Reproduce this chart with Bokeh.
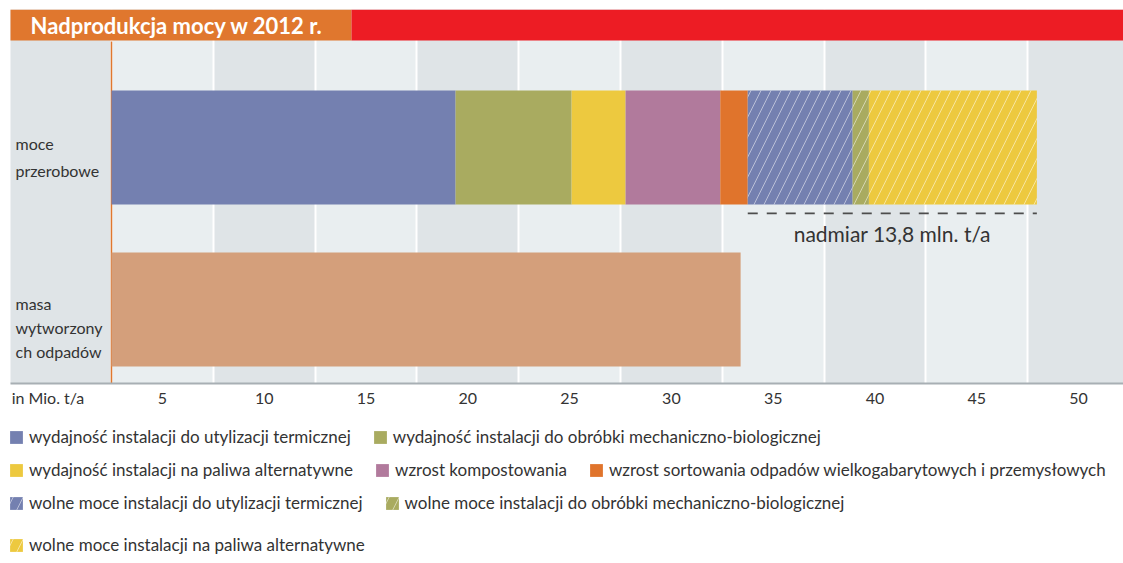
from bokeh.plotting import figure
from bokeh.layouts import column
from bokeh.models import Range1d, FixedTicker, Legend, LegendItem
from bokeh.core.properties import value
from bokeh.embed import file_html
from bokeh.resources import INLINE

# ---------------- data ----------------
title = "Nadprodukcja mocy w 2012 r."
categories = ["moce przerobowe", "masa wytworzonych odpadów"]
category_labels = ["moce\nprzerobowe", "masa\nwytworzony\nch odpadów"]

segment_labels = [
    "wydajność instalacji do utylizacji termicznej",
    "wydajność instalacji do obróbki mechaniczno-biologicznej",
    "wydajność instalacji na paliwa alternatywne",
    "wzrost kompostowania",
    "wzrost sortowania odpadów wielkogabarytowych i przemysłowych",
    "wolne moce instalacji do utylizacji termicznej",
    "wolne moce instalacji do obróbki mechaniczno-biologicznej",
    "wolne moce instalacji na paliwa alternatywne",
]
segment_values = [16.9, 5.7, 2.65, 4.65, 1.35, 5.15, 0.8, 8.25]
segment_colors = ["#7480b0", "#a9ab60", "#edc93f", "#b17a9c", "#e0742c",
                  "#7480b0", "#a9ab60", "#edc93f"]
segment_hatched = [False, False, False, False, False, True, True, True]
n_capacity = 5  # first five segments = existing capacity, rest = free capacity

waste_value = 30.9
waste_color = "#d49f7b"

excess_label = "nadmiar 13,8 mln. t/a"
tick_values = [5, 10, 15, 20, 25, 30, 35, 40, 45, 50]
unit_label = "in Mio. t/a"
legend_rows = [[0, 1], [2, 3, 4], [5, 6], [7]]

# ---------------- layout helpers ----------------
PX = 20.36                      # pixels per unit
LEFT = 10
FRAME_W = 1113
x_start = -(111 - LEFT) / PX
x_end = x_start + FRAME_W / PX
y_start, y_end = -0.457, 1.852
FONT = value("Lato")
TXT = "#333333"
HATCH = dict(hatch_pattern="/", hatch_color="white", hatch_alpha=0.5,
             hatch_scale=20, hatch_weight=1)

p = figure(width=LEFT + FRAME_W, height=413,
           x_range=Range1d(x_start, x_end), y_range=Range1d(y_start, y_end),
           output_backend="svg", toolbar_location=None, y_axis_location=None,
           min_border_left=LEFT, min_border_right=0, min_border_top=9, min_border_bottom=30,
           outline_line_color=None, background_fill_color="#dfe4e7", border_fill_color="white")

# stripes via grid bands
p.ygrid.visible = False
p.xgrid.ticker = FixedTicker(ticks=[x_start] + [0] + tick_values + [55])
p.xgrid.grid_line_color = "white"
p.xgrid.grid_line_width = 2
p.xgrid.band_fill_color = "#e9eef0"
p.xgrid.band_fill_alpha = 1.0

# title bar
title_split = (351 - 111) / PX
p.quad(left=[x_start - 0.05], right=[title_split], bottom=[1.66], top=[y_end], color="#e0772e", line_color=None)
p.quad(left=[title_split], right=[x_end], bottom=[1.66], top=[y_end], color="#ed1c24", line_color=None)
p.text(x=[x_start], y=[(1.66 + y_end) / 2], text=[title], x_offset=20,
       text_baseline="middle", text_font=FONT, text_font_style="bold",
       text_font_size="22px", text_color="white")

# zero line
p.segment(x0=[0], x1=[0], y0=[y_start], y1=[1.654], line_color="#e0772e", line_width=1.5)

# stacked bar
renderers = []
left = 0.0
for lab, v, c, h in zip(segment_labels, segment_values, segment_colors, segment_hatched):
    kw = HATCH if h else {}
    r = p.hbar(y=[1], left=[left], right=[left + v], height=0.704,
               fill_color=c, line_color=None, **kw)
    renderers.append(r)
    left += v
total = left
excess_start = sum(segment_values[:n_capacity])

p.hbar(y=[0], left=[0], right=[waste_value], height=0.704, fill_color=waste_color, line_color=None)

# excess annotation
p.segment(x0=[excess_start], x1=[total], y0=[0.593], y1=[0.593],
          line_dash="10 9", line_width=1.7, line_color="#4d4d4d")
p.text(x=[(excess_start + total) / 2], y=[0.469], text=[excess_label],
       text_align="center", text_baseline="middle", text_font=FONT,
       text_font_size="21px", text_color=TXT)

# category labels
p.text(x=[x_start], y=[1 - 9.5 / 162], text=[category_labels[0]],
       x_offset=5, text_baseline="middle", text_font=FONT, text_font_size="16px",
       text_color=TXT, text_line_height=1.45)
p.text(x=[x_start], y=[0 - 18 / 162], text=[category_labels[1]],
       x_offset=5, text_baseline="middle", text_font=FONT, text_font_size="16px",
       text_color=TXT, text_line_height=1.25)

# x axis
tick_pos = [(47.5 - 111) / PX] + [t - 2.5 for t in tick_values]
overrides = {tick_pos[0]: unit_label}
for pos, t in zip(tick_pos[1:], tick_values):
    overrides[pos] = str(t)
ax = p.xaxis[0]
ax.ticker = FixedTicker(ticks=tick_pos)
ax.major_label_overrides = overrides
ax.axis_line_color = "#a8afb4"
ax.axis_line_width = 2
ax.major_tick_line_color = None
ax.minor_tick_line_color = None
ax.major_label_text_font = "Lato"
ax.major_label_text_font_size = "16px"
ax.major_label_text_color = TXT
ax.major_label_standoff = -2

# ---------------- legend panel ----------------
LEG_H = 150
p2 = figure(width=LEFT + FRAME_W, height=LEG_H, x_range=Range1d(0, 1), y_range=Range1d(0, 1),
            output_backend="svg", toolbar_location=None,
            x_axis_location=None, y_axis_location=None,
            min_border=0, outline_line_color=None, background_fill_color="white")
p2.xgrid.visible = False
p2.ygrid.visible = False

proxies = []
for c, h in zip(segment_colors, segment_hatched):
    kw = HATCH if h else {}
    proxies.append(p2.hbar(y=[-5], left=[-5], right=[-4], height=1,
                           fill_color=c, line_color=None, **kw))

row_centers = [24, 57, 90, 132]   # px below the top of the legend panel
for row, cy in zip(legend_rows, row_centers):
    leg = Legend(items=[LegendItem(label=segment_labels[i], renderers=[proxies[i]]) for i in row],
                 orientation="horizontal", location=(LEFT - 12, LEG_H - cy - 10), margin=0, padding=0,
                 spacing=21, label_standoff=5, glyph_width=16, glyph_height=16,
                 label_height=20, border_line_color=None, background_fill_alpha=0,
                 label_text_font="Lato", label_text_font_size="17px", label_text_color=TXT)
    p2.add_layout(leg, "center")

layout = column(p, p2, spacing=0)
open("out.html", "w").write(file_html(layout, INLINE))
